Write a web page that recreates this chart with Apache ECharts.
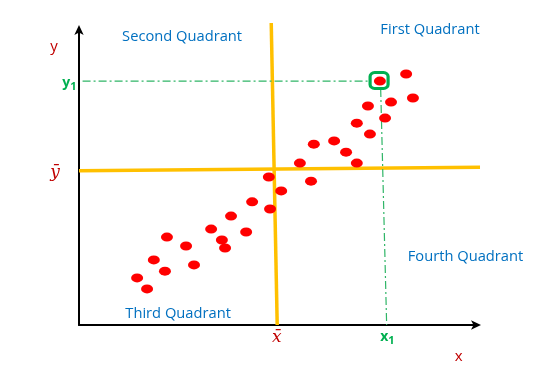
<!DOCTYPE html>
<html>
<head>
<meta charset="utf-8">
<style>
html,body{margin:0;padding:0;background:#fff;}
#chart{width:538px;height:371px;}
</style>
<script src="https://cdn.jsdelivr.net/npm/echarts@6/dist/echarts.min.js"></script>
</head>
<body>
<div id="chart"></div>
<script>
// Scatter points (abstract units, x 0..100, y 0..100)
const pointsX = [14.6, 17.1, 18.8, 21.6, 22.1, 26.9, 28.9, 33.2, 35.9, 36.7, 38.2, 42.0, 43.5, 47.7, 48.0, 50.8, 55.5, 58.3, 59.0, 64.1, 67.1, 69.8, 69.8, 72.6, 73.1, 75.6, 76.9, 78.4, 82.2, 83.9];
const pointsY = [15.9, 12.2, 22.0, 18.2, 29.7, 26.7, 20.3, 32.4, 28.7, 26.0, 36.8, 31.4, 41.6, 50.0, 39.2, 45.3, 54.7, 48.6, 61.1, 62.2, 58.4, 68.2, 54.7, 74.0, 64.5, 82.4, 69.9, 75.3, 84.8, 76.7];

// Mean lines (x-bar and y-bar), drawn slightly tilted as in the reference
const yBarLine = [[0, 52.1], [101.5, 53.3]];
const xBarLine = [[48.3, 102.0], [49.8, 0]];

// Highlighted point (x1, y1) and its guide lines
const highlight = [75.4, 82.6];
const y1Guide = [[0.9, 82.4], [72.9, 82.4]];
const x1Guide = [[75.8, 79.7], [77.3, 0]];

// Annotation texts
const quadrantNames = ['First Quadrant', 'Second Quadrant', 'Third Quadrant', 'Fourth Quadrant'];
const quadrantPos = [[88.2, 99.8], [25.9, 97.4], [24.9, 3.7], [97.1, 23.1]];
const axisMarks = ['y', '{a|y}{b|1}', '\u0233', 'x\u0304', '{a|x}{b|1}', 'x'];
const axisMarkPos = [[-6.3, 93.9], [-2.4, 81.4], [-6.0, 51.4], [49.7, -4.2], [77.5, -4.4], [95.4, -10.8]];
const axisMarkKind = ['axis', 'sub', 'bar', 'bar', 'sub', 'axis'];

const chart = echarts.init(document.getElementById('chart'), null, {renderer: 'canvas'});

const RED_TXT = '#c00000';
const GREEN = '#00b050';
const BLUE = '#0070c0';

function markStyle(kind) {
  if (kind === 'sub') return {
    rich: {
      a: {color: GREEN, fontFamily: 'Open Sans', fontWeight: 'bold', fontSize: 14, lineHeight: 16, verticalAlign: 'top'},
      b: {color: GREEN, fontFamily: 'Open Sans', fontWeight: 'bold', fontSize: 11, lineHeight: 17, verticalAlign: 'bottom'}
    }
  };
  if (kind === 'bar') return {color: RED_TXT, fontFamily: 'DejaVu Serif', fontStyle: 'italic', fontSize: 17};
  return {color: RED_TXT, fontFamily: 'Open Sans', fontSize: 15};
}

const labelData = [];
quadrantNames.forEach((t, i) => {
  labelData.push({value: quadrantPos[i], label: {show: true, position: 'inside', formatter: t, color: BLUE, fontFamily: 'Open Sans', fontSize: 14.7}});
});
axisMarks.forEach((t, i) => {
  labelData.push({value: axisMarkPos[i], label: Object.assign({show: true, position: 'inside', formatter: t}, markStyle(axisMarkKind[i]))});
});

const axisCommon = {
  type: 'value', min: 0, max: 100,
  axisLine: {show: true, onZero: false, symbol: ['none', 'arrow'], symbolSize: [7, 10], symbolOffset: [0, 4], lineStyle: {color: '#000', width: 2}},
  axisTick: {show: false}, axisLabel: {show: false}, splitLine: {show: false}
};

chart.setOption({
  animation: false,
  grid: {left: 79, right: 61, top: 29, bottom: 46, containLabel: false},
  xAxis: axisCommon,
  yAxis: axisCommon,
  series: [
    {type: 'line', data: yBarLine, symbol: 'none', clip: false, z: 1, lineStyle: {color: '#ffc000', width: 3.5}},
    {type: 'line', data: xBarLine, symbol: 'none', clip: false, z: 1, lineStyle: {color: '#ffc000', width: 3.5}},
    {type: 'line', data: y1Guide, symbol: 'none', clip: false, z: 1, lineStyle: {color: '#2fb567', width: 1.2, type: [8, 3, 2, 3]}},
    {type: 'line', data: x1Guide, symbol: 'none', clip: false, z: 1, lineStyle: {color: '#2fb567', width: 1.2, type: [8, 3, 2, 3]}},
    {type: 'scatter', data: pointsX.map((x, i) => [x, pointsY[i]]), symbol: 'circle', symbolSize: [12, 9], clip: false, z: 3, itemStyle: {color: '#ff0000', opacity: 1}},
    {type: 'scatter', data: [highlight], symbol: 'roundRect', symbolSize: [18, 16], clip: false, z: 4,
     itemStyle: {color: 'rgba(0,0,0,0)', borderColor: GREEN, borderWidth: 3, opacity: 1}},
    {type: 'scatter', data: labelData, symbolSize: 1, clip: false, z: 5, itemStyle: {color: 'rgba(0,0,0,0)', opacity: 1}, silent: true}
  ]
});
</script>
</body>
</html>
